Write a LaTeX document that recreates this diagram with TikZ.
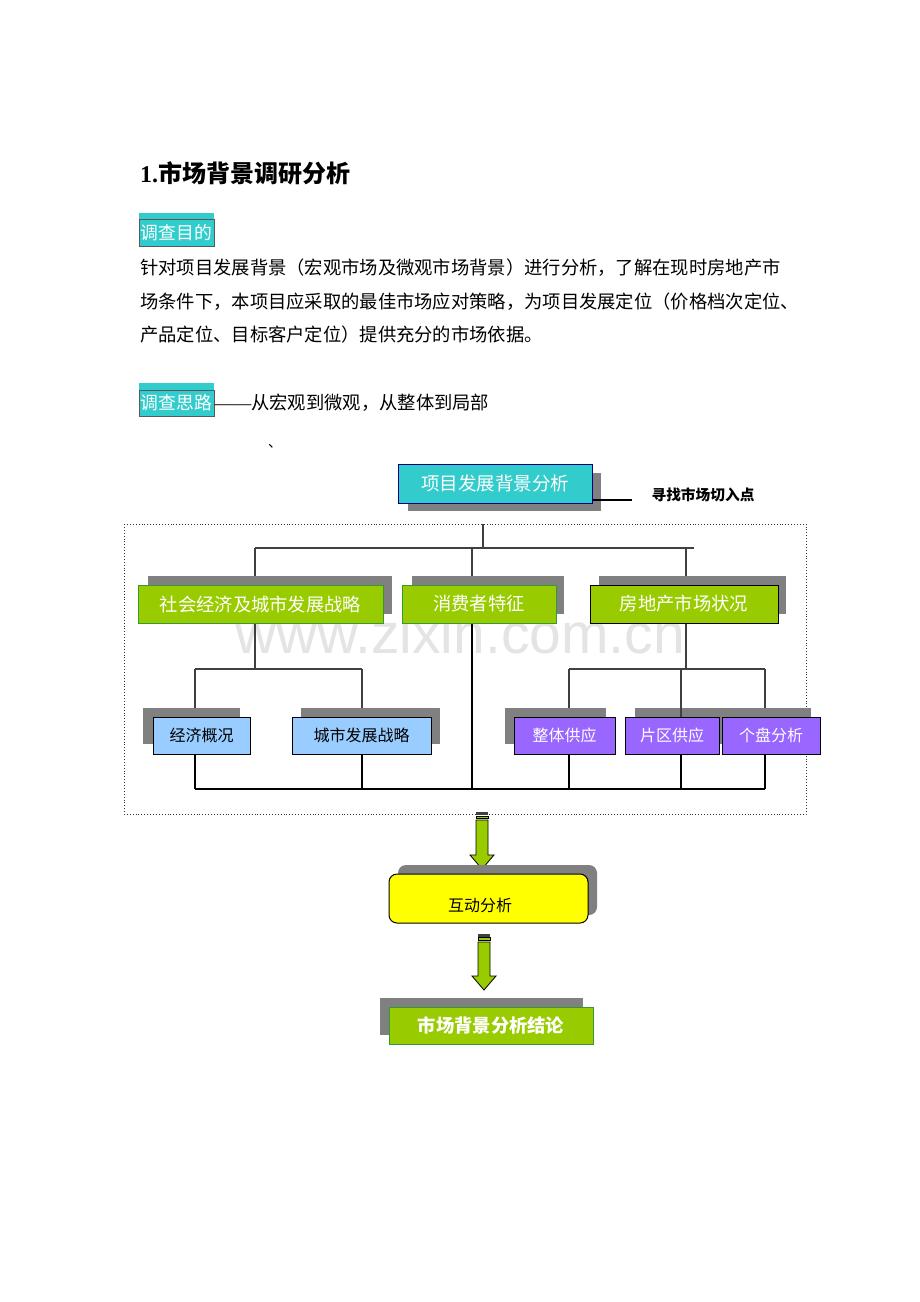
\documentclass[tikz,border=0pt]{standalone}
\usepackage{fontspec}
\setmainfont{Liberation Serif}
\setsansfont{Liberation Sans}
\newfontfamily\cjk{Noto Sans CJK SC}
\usetikzlibrary{calc}
\definecolor{cyanb}{HTML}{33CCCC}
\definecolor{greenb}{HTML}{99CC00}
\definecolor{shadowc}{HTML}{808080}
\definecolor{blueb}{HTML}{99CCFF}
\definecolor{purpleb}{HTML}{9966FF}
\definecolor{yellowb}{HTML}{FFFF00}
\definecolor{linec}{HTML}{404040}
\definecolor{darkgreenb}{HTML}{339933}
\definecolor{navyb}{HTML}{000080}
\definecolor{wmark}{HTML}{E4E4E4}
\begin{document}
\begin{tikzpicture}[x=1pt,y=-1pt,
  shadowbox/.style={fill=shadowc},
  cjkt/.style={font=\cjk\fontsize{#1}{#1}\selectfont},
  nbox/.style={draw, line width=1pt, inner sep=0pt, align=center},
  greenbox/.style={nbox, fill=greenb, draw=darkgreenb, text=white, cjkt=18.3},
  bluebox/.style={nbox, fill=blueb, draw=black, text=black, cjkt=16},
  purplebox/.style={nbox, fill=purpleb, draw=black, text=white, cjkt=16},
  tline/.style={draw=linec, line width=1.4pt},
  bline/.style={draw=black, line width=1.1pt},
  arrowbody/.style={fill=greenb, draw=black, line width=0.8pt},
]
\useasboundingbox[fill=white] (0,0) rectangle (920,1302);

% watermark
\node[anchor=base, text=wmark, font=\sffamily\fontsize{57}{57}\selectfont] (wm) at (460,653) {www.zixin.com.cn};

% title
\node[anchor=west, inner sep=0pt, font=\fontsize{24}{24}\selectfont\bfseries] (title) at (140,173) {1.{\cjk 市场背景调研分析}};

% label 1
\fill[cyanb] (139,213) rectangle (214,219);
\node[draw=black!65, fill=cyanb, line width=1pt, inner sep=0pt, minimum width=75pt, minimum height=27pt, text=white, cjkt=17.8] (lab1) at (176.5,232.5) {调查目的};

% body text
\node[anchor=west, inner sep=0pt, cjkt=18.3] (l1) at (140,268) {针对项目发展背景（宏观市场及微观市场背景）进行分析，了解在现时房地产市};
\node[anchor=west, inner sep=0pt, cjkt=18.3] (l2) at (140,302) {场条件下，本项目应采取的最佳市场应对策略，为项目发展定位（价格档次定位、};
\node[anchor=west, inner sep=0pt, cjkt=18.3] (l3) at (140,335) {产品定位、目标客户定位）提供充分的市场依据。};

% label 2
\fill[cyanb] (139,383) rectangle (214,390);
\node[draw=black!65, fill=cyanb, line width=1pt, inner sep=0pt, minimum width=75pt, minimum height=26pt, text=white, cjkt=17.8] (lab2) at (176.5,403) {调查思路};
\node[anchor=west, inner sep=0pt, cjkt=18.3] (l4) at (lab2.east) {{\rmfamily ——}从宏观到微观，从整体到局部};

\node[cjkt=14, inner sep=0pt] (dun) at (275,446) {、};

% top node
\fill[shadowc] (408,473) rectangle (601,511);
\node[nbox, fill=cyanb, draw=navyb, text=white, cjkt=18.5, minimum width=194pt, minimum height=39pt] (T) at (495,483.5) {项目发展背景分析};
\coordinate (tl) at (632,500);
\draw[black, line width=1.1pt] (tl -| T.east) -- (tl);
\node[font=\cjk\fontsize{14.7}{14.7}\selectfont\bfseries, inner sep=0pt] (seek) at (703,495) {寻找市场切入点};

% frame
\draw[black!80, dotted, line width=0.9pt] (124,524) rectangle (806,814);

% tree lines (upper)
\coordinate (f1) at (483,524);
\coordinate (j0) at (483,548);
\coordinate (hA) at (255,548);
\coordinate (hB) at (472,548);
\coordinate (hC) at (686,548);
\coordinate (hE) at (694,548);
\draw[tline] (f1) -- (j0);
\draw[tline] (hA) -- (hE);
\draw[tline] (hA) -- (255,585);
\draw[tline] (hB) -- (472,585);
\draw[tline] (hC) -- (686,585);

% second level lines
\coordinate (sA) at (255,669);
\coordinate (sD) at (195,669);
\coordinate (sE) at (362,669);
\coordinate (sC) at (686,669);
\coordinate (sF) at (569,669);
\coordinate (sG) at (681,669);
\coordinate (sH) at (765,669);
\draw[tline] (255,623) -- (sA);
\draw[tline] (sD) -- (sE);
\draw[tline] (sD) -- (195,717);
\draw[tline] (sE) -- (362,717);
\draw[tline] (686,623) -- (sC);
\draw[tline] (sF) -- (sH);
\draw[tline] (sF) -- (569,717);
\draw[tline] (sH) -- (765,717);

% bottom lines
\coordinate (bD) at (195,789);
\coordinate (bE) at (362,789);
\coordinate (bB) at (472,789);
\coordinate (bF) at (569,789);
\coordinate (bG) at (681,789);
\coordinate (bH) at (765,789);
\draw[bline] (bD) -- (bH);
\draw[bline] (195,754) -- (bD);
\draw[bline] (362,754) -- (bE);
\draw[bline] (472,623) -- (bB);
\draw[bline] (569,754) -- (bF);
\draw[bline] (681,754) -- (bG);
\draw[bline] (765,754) -- (bH);

% shadows level 1
\fill[shadowc] (148,576) rectangle (392,614);
\fill[shadowc] (412,576) rectangle (564,614);
\fill[shadowc] (599,576) rectangle (786,614);
% level 1 nodes
\node[greenbox, minimum width=245pt, minimum height=38pt] (A) at (260.5,604) {社会经济及城市发展战略};
\node[greenbox, minimum width=154pt, minimum height=38pt] (B) at (479,604) {消费者特征};
\node[greenbox, draw=black, minimum width=188pt, minimum height=38pt] (C) at (684,604) {房地产市场状况};

% shadows level 2
\fill[shadowc] (143,708) rectangle (240,744);
\fill[shadowc] (301,708) rectangle (440,744);
\fill[shadowc] (505,708) rectangle (606,744);
\fill[shadowc] (635,708) rectangle (728,744);
\fill[shadowc] (713,708) rectangle (811,744);
\draw[tline] (sG) -- (681,717);

% level 2 nodes
\node[bluebox, minimum width=97pt, minimum height=37pt] (D) at (201.5,735.5) {经济概况};
\node[bluebox, minimum width=139pt, minimum height=37pt] (E) at (361.5,735.5) {城市发展战略};
\node[purplebox, minimum width=101pt, minimum height=37pt] (F) at (564.5,735.5) {整体供应};
\node[purplebox, minimum width=94pt, minimum height=37pt] (G) at (672,735.5) {片区供应};
\node[purplebox, minimum width=98pt, minimum height=37pt] (H) at (771,735.5) {个盘分析};

% arrow 1
\fill[black!75] (476,812) rectangle (488,815);
\filldraw[fill=greenb, draw=black, line width=0.7pt] (476,816) rectangle (488,818.5);
\filldraw[arrowbody] (476,820) -- (488,820) -- (488,855) -- (494,855) -- (482,869) -- (470,855) -- (476,855) -- cycle;

% interaction node
\fill[shadowc, rounded corners=8pt] (398,865) rectangle (597,915);
\node[nbox, fill=yellowb, draw=black, rounded corners=8pt, minimum width=199pt, minimum height=49pt] (Y) at (488.5,898.5) {};
\node[cjkt=16, inner sep=0pt] (Yt) at (480,905) {互动分析};

% arrow 2
\fill[black!75] (478,934) rectangle (490,936.5);
\filldraw[fill=greenb, draw=black, line width=0.7pt] (478,937.5) rectangle (490,940.5);
\filldraw[arrowbody] (478,942) -- (490,942) -- (490,976) -- (496,976) -- (484,990) -- (472,976) -- (478,976) -- cycle;

% conclusion node
\fill[shadowc] (380,998) rectangle (583,1035);
\node[greenbox, minimum width=204pt, minimum height=37pt] (Z) at (491,1025.5) {\bfseries 市场背景分析结论};

\end{tikzpicture}
\end{document}
